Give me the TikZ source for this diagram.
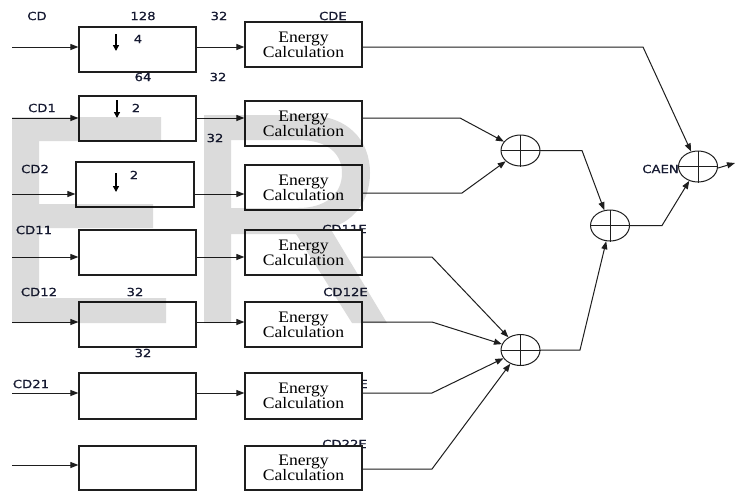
\documentclass[tikz,border=0pt]{standalone}
\usepackage{fontspec}
\setmainfont{Liberation Serif}
\newfontfamily\lblfont[FakeStretch=1.18,FakeBold=0.6]{DejaVu Sans}
\newfontfamily\ecfont[FakeStretch=1.1]{Liberation Serif}
\usetikzlibrary{arrows.meta,shapes.geometric}
\definecolor{lblcol}{RGB}{22,26,50}
\definecolor{boxcol}{RGB}{30,30,30}
\begin{document}
\begin{tikzpicture}[x=1pt,y=-1pt,
  lbl/.style={font=\lblfont\fontsize{11.2}{12}\selectfont, text=lblcol, inner sep=0pt},
  dsbox/.style={draw=boxcol, line width=1.2pt, fill=white, minimum width=117pt},
  ecbox/.style={draw=boxcol, line width=1.2pt, fill=white, minimum width=117pt, align=center, inner sep=0pt,
    font=\ecfont\fontsize{16}{15}\selectfont},
  arr/.style={-{Triangle[length=8pt,width=6pt]}, line width=1pt, draw=boxcol},
  wire/.style={line width=1pt, draw=boxcol},
  darr/.style={-{Triangle[length=6pt,width=6pt]}, line width=1.3pt},
  adder/.style={ellipse, draw=boxcol, line width=1pt, minimum width=39pt, minimum height=31pt, inner sep=0pt, fill=white},
]
\useasboundingbox (0,0) rectangle (743,491);
\fill[white] (0,0) rectangle (743,491);

% labels partly hidden behind boxes
\node[lbl, anchor=east] (lcd11e) at (367,229) {CD11E};
\node[lbl, anchor=east] (lcd21e) at (368,384) {CD21E};
\node[lbl, anchor=east] (lcd22e) at (367,444) {CD22E};

% left boxes
\node[dsbox, minimum height=45pt] (l1) at (137.5,49.5) {};
\node[dsbox, minimum height=45pt] (l2) at (137.5,118.5) {};
\node[dsbox, minimum width=118pt, minimum height=45pt] (l3) at (135,184.5) {};
\node[dsbox, minimum height=45pt] (l4) at (137.5,252.5) {};
\node[dsbox, minimum height=45pt] (l5) at (137.5,324.5) {};
\node[dsbox, minimum height=46pt] (l6) at (137.5,396) {};
\node[dsbox, minimum height=44pt] (l7) at (137.5,468) {};

% energy boxes
\node[ecbox, minimum height=45pt] (e1) at (303.5,44.5) {Energy\\Calculation};
\node[ecbox, minimum height=45pt] (e2) at (303.5,123.5) {Energy\\Calculation};
\node[ecbox, minimum height=45pt] (e3) at (303.5,187.5) {Energy\\Calculation};
\node[ecbox, minimum height=45pt] (e4) at (303.5,252.5) {Energy\\Calculation};
\node[ecbox, minimum height=45pt] (e5) at (303.5,324.5) {Energy\\Calculation};
\node[ecbox, minimum height=46pt] (e6) at (303.5,396) {Energy\\Calculation};
\node[ecbox, minimum height=44pt] (e7) at (303.5,468) {Energy\\Calculation};

% adders
\node[adder] (a1) at (520.5,150.5) {};
\node[adder] (a2) at (610,225.5) {};
\node[adder] (a3) at (698,166.5) {};
\node[adder] (a4) at (520.5,350) {};
\foreach \a in {a1,a2,a3,a4}{
  \draw[wire] (\a.north) -- (\a.south) (\a.west) -- (\a.east);
}

% row coordinates
\coordinate (s1) at (12,47);
\coordinate (s2) at (12,118);
\coordinate (s3) at (12,194);
\coordinate (s4) at (12,257);
\coordinate (s5) at (12,322);
\coordinate (s6) at (12,393);
\coordinate (s7) at (12,465);
\coordinate (t7) at (12,469);

% bends
\coordinate (b1) at (643,47);
\coordinate (b2) at (460,118);
\coordinate (b3) at (462,193);
\coordinate (b4) at (432,257);
\coordinate (b5) at (432,322);
\coordinate (b6) at (432,393);
\coordinate (b7) at (432,469);
\coordinate (c1) at (582,150.5);
\coordinate (c2) at (662,225.5);
\coordinate (c4) at (580,350);
\coordinate (out) at (735,163);

% inputs
\foreach \i in {1,...,7}{
  \draw[arr] (s\i) -- (s\i -| l\i.west);
}
% between boxes
\foreach \i in {1,...,6}{
  \draw[arr] (s\i -| l\i.east) -- (s\i -| e\i.west);
}

% energy outputs
\draw[arr] (s1 -| e1.east) -- (b1) -- (a3);
\draw[arr] (s2 -| e2.east) -- (b2) -- (a1);
\draw[arr] (b3 -| e3.east) -- (b3) -- (a1);
\draw[arr] (s4 -| e4.east) -- (b4) -- (a4);
\draw[arr] (s5 -| e5.east) -- (b5) -- (a4);
\draw[arr] (s6 -| e6.east) -- (b6) -- (a4);
\draw[arr] (t7 -| e7.east) -- (b7) -- (a4);

% adder chain
\draw[arr] (a1.east) -- (c1) -- (a2);
\draw[arr] (a4.east) -- (c4) -- (a2);
\draw[arr] (a2.east) -- (c2) -- (a3);
\draw[arr] ([yshift=-1.5pt]a3.east) -- (out);

% downsampling arrows
\draw[darr] (116,34) -- (116,51);
\draw[darr] (117,100) -- (117,118);
\draw[darr] (116,173) -- (116,192);

% labels
\node[lbl] (lcd) at (37,16) {CD};
\node[lbl] (l128) at (143,16) {128};
\node[lbl] (l32a) at (219,16) {32};
\node[lbl, anchor=east] (lcde) at (347,16) {CDE};
\node[lbl] (l4) at (138,39) {4};
\node[lbl] (l64) at (143,77) {64};
\node[lbl] (l32b) at (218,77) {32};
\node[lbl] (lcd1) at (42,108) {CD1};
\node[lbl] (l2a) at (136,108) {2};
\node[lbl] (l32c) at (215,138) {32};
\node[lbl] (lcd2) at (35,169) {CD2};
\node[lbl] (l2b) at (134,175) {2};
\node[lbl] (lcd11) at (34,230) {CD11};
\node[lbl] (lcd12) at (39,292) {CD12};
\node[lbl] (l32d) at (135,292) {32};
\node[lbl] (l32e) at (143,353) {32};
\node[lbl, anchor=east] (lcd12e) at (368,292) {CD12E};
\node[lbl] (lcd21) at (31,384) {CD21};
\node[lbl, anchor=east] (lcaen) at (679,169) {CAEN};

% watermark
\fill[black, fill opacity=0.14]
  (12,117) -- (161,117) -- (161,141) -- (39,141) -- (39,204) -- (153,204) -- (153,228)
  -- (39,228) -- (39,298) -- (166,298) -- (166,323) -- (12,323) -- cycle;
\fill[black, fill opacity=0.14, even odd rule]
  (204,323) -- (204,115) -- (305,115) .. controls (348,115) and (370,140) .. (370,173)
  .. controls (370,203) and (352,222) .. (330,228) -- (387,323) -- (352,323) -- (296,234)
  -- (231,234) -- (231,323) -- cycle
  (231,140) -- (298,140) .. controls (328,140) and (342,154) .. (342,173)
  .. controls (342,194) and (326,208) .. (298,208) -- (231,208) -- cycle;
\end{tikzpicture}
\end{document}
